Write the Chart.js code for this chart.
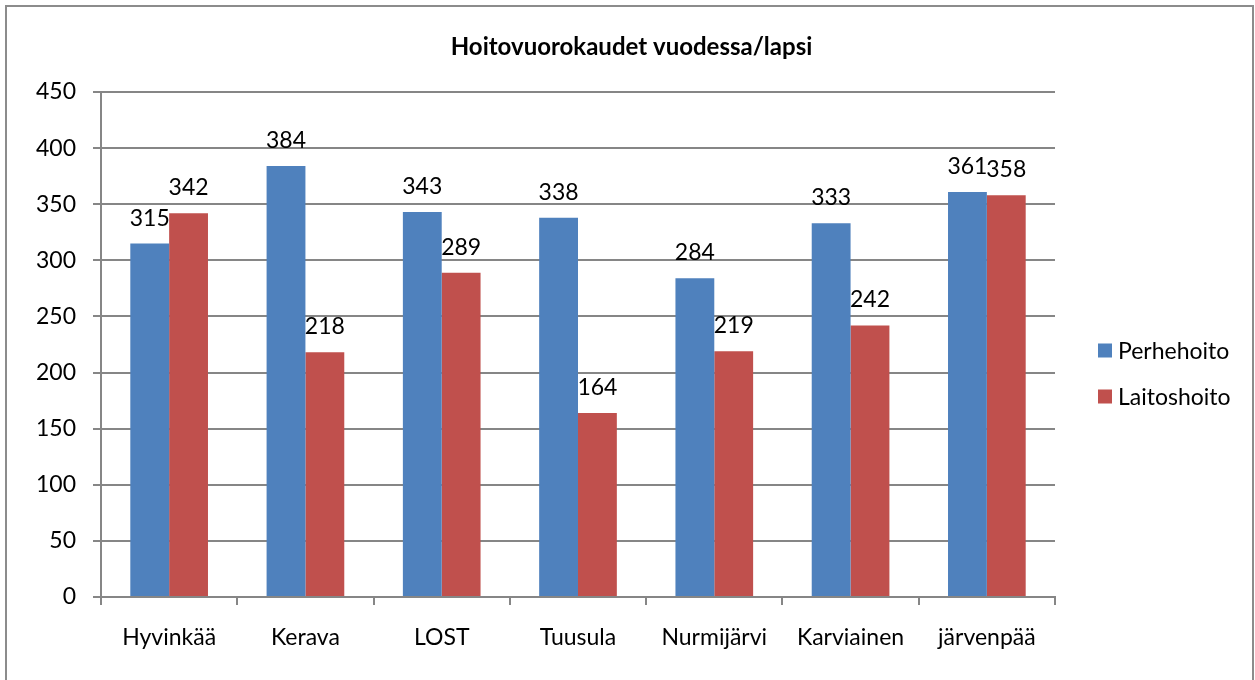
<!DOCTYPE html>
<html>
<head>
<meta charset="utf-8">
<script src="https://cdn.jsdelivr.net/npm/chart.js@4"></script>
<style>
  html, body { margin: 0; padding: 0; background: #fff; }
  #wrap { position: relative; width: 1255px; height: 680px; overflow: hidden; }
  #frame { position: absolute; left: 5px; top: 5px; width: 1249px; height: 700px; border: 2px solid #8c8c8c; box-sizing: border-box; }
  #chart { position: absolute; left: 0; top: 0; }
</style>
</head>
<body>
<div id="wrap">
  <div id="frame"></div>
  <canvas id="chart" width="1255" height="680"></canvas>
</div>
<script>
// Hoitovuorokaudet vuodessa/lapsi
const kunnat = ['Hyvinkää', 'Kerava', 'LOST', 'Tuusula', 'Nurmijärvi', 'Karviainen', 'järvenpää'];
const perhehoito = [315, 384, 343, 338, 284, 333, 361];
const laitoshoito = [342, 218, 289, 164, 219, 242, 358];
const yTicks = [0, 50, 100, 150, 200, 250, 300, 350, 400, 450];
const otsikko = 'Hoitovuorokaudet vuodessa/lapsi';

const FONT = 'Lato, "Open Sans", sans-serif';
const gridColor = '#868686';

// luvut pylväiden päälle
const valueLabels = {
    id: 'valueLabels',
    afterDatasetsDraw(chart) {
        const ctx = chart.ctx;
        ctx.save();
        ctx.font = '23px ' + FONT;
        ctx.fillStyle = '#000';
        ctx.textAlign = 'center';
        ctx.textBaseline = 'alphabetic';
        chart.data.datasets.forEach((ds, i) => {
            chart.getDatasetMeta(i).data.forEach((bar, j) => {
                ctx.fillText(ds.data[j], bar.x, bar.y - 18);
            });
        });
        ctx.restore();
    }
};

// otsikko ja selite
const titleAndLegend = {
    id: 'titleAndLegend',
    afterDraw(chart) {
        const ctx = chart.ctx;
        ctx.save();
        ctx.font = 'bold 24px ' + FONT;
        ctx.fillStyle = '#000';
        ctx.textAlign = 'center';
        ctx.textBaseline = 'middle';
        ctx.fillText(otsikko, chart.width / 2 + 4, 47);

        const x = chart.chartArea.right + 43;
        const y0 = (chart.chartArea.top + chart.chartArea.bottom) / 2 + 6;
        ctx.font = '23px ' + FONT;
        ctx.textAlign = 'left';
        chart.data.datasets.forEach((ds, i) => {
            const y = y0 + i * 46;
            ctx.fillStyle = ds.backgroundColor;
            ctx.fillRect(x, y - 7, 14, 14);
            ctx.fillStyle = '#000';
            ctx.fillText(ds.label, x + 20, y + 1);
        });
        ctx.restore();
    }
};

new Chart(document.getElementById('chart').getContext('2d'), {
    type: 'bar',
    data: {
        labels: kunnat,
        datasets: [
            { label: 'Perhehoito', data: perhehoito, backgroundColor: '#4F81BD' },
            { label: 'Laitoshoito', data: laitoshoito, backgroundColor: '#C0504D' }
        ]
    },
    options: {
        responsive: false,
        animation: false,
        layout: { padding: { left: 0, right: 200, top: 92, bottom: 0 } },
        datasets: { bar: { categoryPercentage: 0.57, barPercentage: 1.0 } },
        plugins: {
            legend: { display: false },
            tooltip: { enabled: false },
            title: { display: false }
        },
        scales: {
            x: {
                offset: true,
                afterFit(axis) { axis.height = 83; },
                grid: { offset: true, drawOnChartArea: false, drawTicks: true, tickLength: 8, color: gridColor, lineWidth: 2 },
                border: { color: gridColor, width: 2 },
                ticks: { color: '#000', font: { family: FONT, size: 23 }, padding: 19, maxRotation: 0 }
            },
            y: {
                min: 0,
                max: 450,
                afterBuildTicks(axis) { axis.ticks = yTicks.map(v => ({ value: v })); },
                afterFit(axis) { axis.width = 101; },
                grid: { color: gridColor, lineWidth: 2, tickLength: 8 },
                border: { color: gridColor, width: 2 },
                ticks: { color: '#000', font: { family: FONT, size: 23 }, padding: 17 }
            }
        }
    },
    plugins: [valueLabels, titleAndLegend]
});
</script>
</body>
</html>
